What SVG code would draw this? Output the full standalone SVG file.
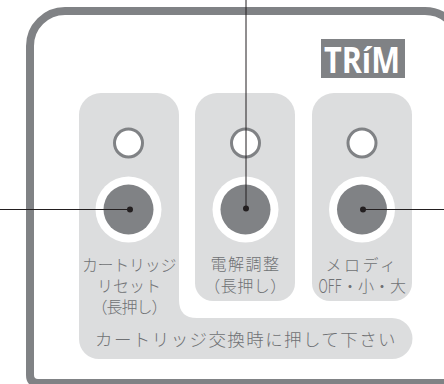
<svg xmlns="http://www.w3.org/2000/svg" width="444" height="384" viewBox="0 0 444 384">
<style>
.p{fill:#dcddde}
.led{fill:#fff;stroke:#808285;stroke-width:3}
.halo{fill:#fff}
.btn{fill:#808285}
.t{font-family:"Noto Sans CJK JP","Liberation Sans",sans-serif;font-size:16px;font-weight:300;fill:#6f7174;text-anchor:middle}
.l{stroke:#231f20;stroke-width:1;fill:none}
.d{fill:#231f20}
</style>
<rect width="444" height="384" fill="#fff"/>
<g id="frame"><path d="M30 375V46A35 35 0 0 1 65 11H425A35 35 0 0 1 460 46V383H38Q30 383 30 375Z" fill="none" stroke="#808285" stroke-width="8"/></g>
<g id="logo"><rect x="321" y="39" width="84" height="39" fill="#808285"/><text x="362" y="73" font-family="'Open Sans','Liberation Sans',sans-serif" font-size="36" font-weight="700" fill="#fff" text-anchor="middle" textLength="76" lengthAdjust="spacingAndGlyphs">TRíM</text></g>
<g id="panel-reset"><path class="p" d="M101 93H157A22 22 0 0 1 179 115V300Q179 318 197 318H392A20.500 20.500 0 0 1 392 359H99A20 20 0 0 1 79 339V115A22 22 0 0 1 101 93Z"/>
<circle class="led" cx="128.500" cy="143" r="14"/><circle class="halo" cx="128.500" cy="209.500" r="33"/><circle class="btn" cx="128.500" cy="209.500" r="25"/>
<text class="t" x="129" y="271" letter-spacing="-0.300">カートリッジ</text><text class="t" x="129" y="292">リセット</text><text class="t" x="129" y="313" letter-spacing="-1">（長押し）</text></g>
<g id="panel-trim"><path class="p" d="M217 93H273A22 22 0 0 1 295 115V283A18 18 0 0 1 277 301H213A18 18 0 0 1 195 283V115A22 22 0 0 1 217 93Z"/>
<circle class="led" cx="245.500" cy="143" r="14"/><circle class="halo" cx="245.500" cy="209.500" r="33"/><circle class="btn" cx="245.500" cy="209.500" r="25"/>
<text class="t" x="245.500" y="270" letter-spacing="1.500">電解調整</text><text class="t" x="245.500" y="292" letter-spacing="0.500">（長押し）</text></g>
<g id="panel-melody"><path class="p" d="M334 93H390A22 22 0 0 1 412 115V283A18 18 0 0 1 394 301H330A18 18 0 0 1 312 283V115A22 22 0 0 1 334 93Z"/>
<circle class="led" cx="362" cy="143" r="14"/><circle class="halo" cx="362" cy="209.500" r="33"/><circle class="btn" cx="362" cy="209.500" r="25"/>
<text class="t" x="362" y="271" letter-spacing="2.500">メロディ</text><text class="t" x="330" y="292.500" font-size="17" style="font-size:19px" textLength="23" lengthAdjust="spacingAndGlyphs">OFF</text><text class="t" x="374" y="292">・小・大</text></g>
<g id="notice"><text class="t" x="246" y="346" style="font-size:17.500px" letter-spacing="1.400">カートリッジ交換時に押して下さい</text></g>
<g id="connectors"><path class="l" d="M0 209.500H130M246 0V208.500M363 209.500H444"/><circle class="d" cx="130" cy="209.500" r="3"/><circle class="d" cx="246" cy="208.500" r="3"/><circle class="d" cx="363" cy="209.500" r="3"/></g>
</svg>
